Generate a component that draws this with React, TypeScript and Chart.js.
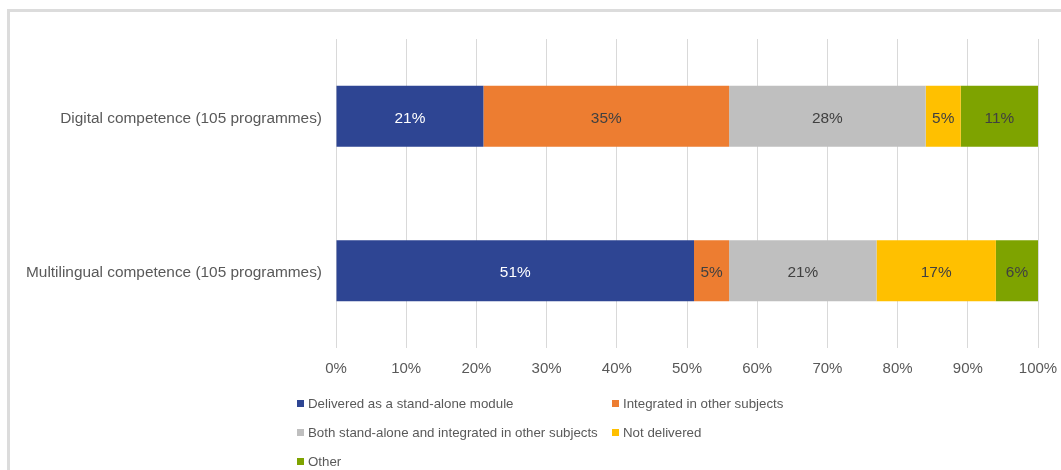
import React, { useEffect, useRef } from "react";
import { Chart, registerables } from "chart.js";

Chart.register(...registerables);

const categories = [
  "Digital competence (105 programmes)",
  "Multilingual competence (105 programmes)",
];
const seriesLabels = [
  "Delivered as a stand-alone module",
  "Integrated in other subjects",
  "Both stand-alone and integrated in other subjects",
  "Not delivered",
  "Other",
];
const seriesColors = ["#2E4593", "#ED7D31", "#BFBFBF", "#FFC000", "#7EA300"];
const labelColors = ["#FFFFFF", "#404040", "#404040", "#404040", "#404040"];
const standAlone = [21, 51];
const integrated = [35, 5];
const both = [28, 21];
const notDelivered = [5, 17];
const other = [11, 6];
const seriesValues = [standAlone, integrated, both, notDelivered, other];
const xTicks = [0, 10, 20, 30, 40, 50, 60, 70, 80, 90, 100];

const FONT = "'Liberation Sans', Arial, sans-serif";

const barLabels = {
  id: "barLabels",
  afterDatasetsDraw(chart: any) {
    const ctx = chart.ctx;
    ctx.save();
    ctx.font = `15.4px ${FONT}`;
    ctx.textAlign = "center";
    ctx.textBaseline = "middle";
    chart.data.datasets.forEach((ds: any, i: number) => {
      const meta = chart.getDatasetMeta(i);
      meta.data.forEach((el: any, j: number) => {
        const v = ds.data[j];
        const x = (el.x + el.base) / 2;
        ctx.fillStyle = labelColors[i];
        ctx.fillText(`${v}%`, x, el.y + 2);
      });
    });
    ctx.restore();
  },
};

export default function App() {
  const ref = useRef<HTMLCanvasElement | null>(null);
  useEffect(() => {
    if (!ref.current) return;
    const chart = new Chart(ref.current, {
      type: "bar",
      data: {
        labels: categories,
        datasets: seriesLabels.map((l, i) => ({
          label: l,
          data: seriesValues[i],
          backgroundColor: seriesColors[i],
          borderWidth: 0,
          barPercentage: 0.395,
          categoryPercentage: 1,
        })),
      },
      options: {
        indexAxis: "y",
        animation: false,
        responsive: false,
        maintainAspectRatio: false,
        layout: { padding: { top: 39, right: 23, bottom: 82, left: 0 } },
        plugins: {
          legend: { display: false },
          tooltip: { enabled: false },
        },
        scales: {
          x: {
            stacked: true,
            min: 0,
            max: 100,
            afterBuildTicks: (s: any) => {
              s.ticks = xTicks.map((v) => ({ value: v }));
            },
            afterFit: (s: any) => {
              s.height = 40;
              s.paddingLeft = 0;
              s.paddingRight = 0;
            },
            grid: { color: "#D9D9D9", drawTicks: false },
            border: { display: false },
            ticks: {
              padding: 12,
              color: "#595959",
              font: { family: FONT, size: 15 },
              callback: (v: any) => `${v}%`,
            },
          },
          y: {
            stacked: true,
            afterFit: (s: any) => {
              s.width = 336;
              s.paddingTop = 0;
              s.paddingBottom = 0;
            },
            grid: { display: false, drawTicks: false },
            border: { display: false },
            ticks: {
              padding: 14,
              labelOffset: 2,
              color: "#595959",
              font: { family: FONT, size: 15.4 },
            },
          },
        },
      },
      plugins: [barLabels],
    } as any);
    return () => chart.destroy();
  }, []);

  return (
    <div
      style={{
        position: "fixed",
        left: 0,
        top: 0,
        width: 1061,
        height: 470,
        overflow: "hidden",
        background: "#fff",
      }}
    >
      <div
        style={{
          position: "absolute",
          left: 7,
          top: 9,
          width: 1100,
          height: 520,
          border: "3px solid #DCDCDC",
          boxSizing: "border-box",
        }}
      />
      <canvas
        ref={ref}
        width={1061}
        height={470}
        style={{ position: "absolute", left: 0, top: 0, width: 1061, height: 470 }}
      />
      <div
        style={{
          position: "absolute",
          left: 297,
          top: 394,
          display: "grid",
          gridTemplateColumns: "315px auto",
          gridAutoRows: "29px",
          fontFamily: FONT,
          fontSize: 13.3,
          color: "#595959",
        }}
      >
        {seriesLabels.map((l, i) => (
          <div
            key={l}
            style={{ display: "flex", alignItems: "center", height: 18, whiteSpace: "nowrap" }}
          >
            <span
              style={{
                display: "inline-block",
                width: 7,
                height: 7,
                background: seriesColors[i],
                marginRight: 4,
              }}
            />
            {l}
          </div>
        ))}
      </div>
    </div>
  );
}
